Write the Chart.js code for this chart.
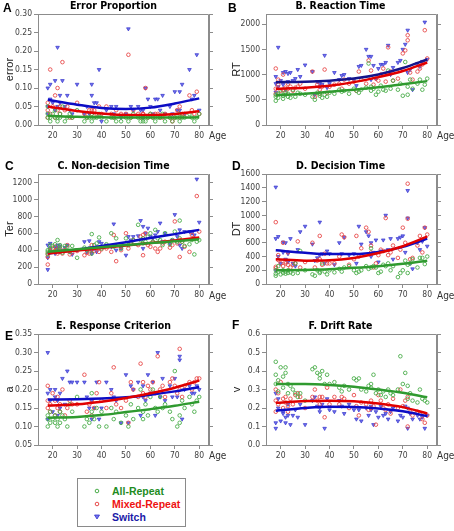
<!DOCTYPE html>
<html><head><meta charset="utf-8">
<script src="https://cdn.jsdelivr.net/npm/chart.js@4.4.1/dist/chart.umd.min.js"></script>
<style>
body{margin:0;background:#fff;width:454px;height:531px;position:relative;overflow:hidden;font-family:"Liberation Sans",Arial,sans-serif}
canvas{position:absolute}
.lt{position:absolute;font-weight:bold;font-size:12px;color:#000;line-height:12px}
.age{position:absolute;font-family:"Liberation Sans Narrow","Arial Narrow","DejaVu Sans Condensed",sans-serif;font-size:10px;color:#333;line-height:12px}
#legend{position:absolute;left:77px;top:478px;width:109px;height:49px;border:1px solid #8a8a8a;box-sizing:border-box}
.li{position:absolute;left:34px;font-weight:bold;font-size:10.5px;line-height:12px}
.mk{position:absolute;left:16px}
</style></head><body>
<script>
// ---------- DATA ----------
const ages = [18,18,18,19,19,20,21,21,22,22,23,23,24,25,26,27,28,30,33,34,35,36,36,37,38,39,40,42,44,45,46,48,50,51,52,53,55,56,57,57,58,59,60,61,62,63,64,65,66,68,69,70,71,72,72,73,74,76,77,78,79,80];
const xTicks = [20,30,40,50,60,70,80];
const fitAges = [18,30,40,50,60,70,80];
const seriesNames = ["All-Repeat","Mixed-Repeat","Switch"];

// A. Error proportion
const errAll = [0.02,0.03,0.05,0.02,0.01,0.03,0.02,0.04,0.02,0.01,0.03,0.02,0.05,0.01,0.02,0.03,0.02,0.04,0.01,0.02,0.02,0.01,0.03,0.02,0.02,0.03,0.02,0.01,0.02,0.02,0.01,0.01,0.02,0.01,0.02,0.03,0.02,0.01,0.01,0.02,0.01,0.02,0.03,0.02,0.01,0.02,0.02,0.03,0.01,0.02,0.01,0.02,0.02,0.03,0.01,0.02,0.02,0.03,0.02,0.01,0.02,0.03];
const errMixed = [0.06,0.04,0.02,0.15,0.03,0.05,0.08,0.02,0.10,0.04,0.05,0.03,0.17,0.04,0.05,0.02,0.02,0.06,0.03,0.02,0.04,0.03,0.04,0.04,0.03,0.05,0.03,0.05,0.03,0.02,0.04,0.03,0.03,0.19,0.02,0.04,0.03,0.02,0.03,0.03,0.10,0.02,0.03,0.02,0.03,0.03,0.02,0.02,0.03,0.02,0.01,0.02,0.04,0.05,0.02,0.03,0.03,0.08,0.04,0.03,0.09,0.03];
const errSwitch = [0.10,0.05,0.03,0.11,0.07,0.06,0.12,0.04,0.21,0.05,0.08,0.06,0.12,0.05,0.08,0.04,0.03,0.11,0.03,0.05,0.03,0.11,0.08,0.06,0.06,0.15,0.01,0.04,0.05,0.03,0.05,0.02,0.03,0.26,0.05,0.04,0.05,0.04,0.04,0.02,0.10,0.07,0.05,0.03,0.07,0.07,0.04,0.08,0.03,0.05,0.03,0.09,0.04,0.09,0.04,0.11,0.03,0.15,0.07,0.08,0.19,0.04];
const errFitAll = [0.025,0.022,0.021,0.020,0.020,0.020,0.021];
const errFitMixed = [0.050,0.038,0.031,0.027,0.027,0.030,0.037];
const errFitSwitch = [0.068,0.055,0.046,0.043,0.047,0.058,0.072];
const errTicks = [0,0.05,0.10,0.15,0.20,0.25,0.30];

// B. Reaction time
const rtAll = [560,600,480,620,540,640,520,580,600,650,560,620,540,700,560,640,620,600,560,500,640,580,620,540,600,560,640,620,700,660,680,620,720,680,640,700,740,1220,760,680,720,600,660,780,700,680,1080,720,880,700,820,580,1250,760,600,900,720,820,900,700,800,920];
const rtMixed = [720,620,1120,800,900,680,1000,700,740,640,820,720,760,680,740,760,820,720,1060,560,800,620,700,760,1100,640,760,800,820,720,900,820,860,680,1060,900,820,1280,1080,940,800,920,880,1000,1120,860,1540,1060,880,920,1080,1420,1480,1780,1680,1040,900,1060,1120,1200,1880,1320];
const rtSwitch = [960,820,650,1540,760,880,1040,800,1060,700,1020,860,1040,880,920,1100,960,1190,1060,600,860,820,760,800,1380,740,820,1040,900,980,1000,920,900,780,1160,1180,1500,1360,1360,900,1180,920,1120,1200,1200,1240,1580,1000,1140,1240,1280,1500,1600,1880,1040,1100,700,1220,1160,1260,2040,1300];
const rtFitAll = [590,620,660,700,750,810,870];
const rtFitMixed = [720,740,780,850,950,1070,1240];
const rtFitSwitch = [850,860,880,920,1000,1130,1300];
const rtTicks = [0,500,1000,1500,2000];

// C. Non-decision time
const terAll = [380,400,350,420,460,450,470,380,520,400,440,460,370,450,440,380,450,310,430,400,420,360,590,460,480,550,420,470,600,440,540,420,540,460,480,520,700,520,480,540,500,560,600,500,640,540,520,460,600,470,520,620,500,540,750,500,450,470,520,350,500,520];
const terMixed = [360,320,230,380,400,420,390,440,360,400,380,420,360,400,460,350,370,390,340,370,360,400,460,390,420,380,410,420,380,580,270,400,600,420,480,520,460,560,340,580,600,460,440,500,420,380,420,480,500,430,460,740,480,320,520,500,440,380,580,540,1040,620];
const terSwitch = [310,460,170,480,420,380,360,440,420,460,380,450,400,430,460,380,350,400,500,380,510,360,400,420,380,500,480,460,440,710,400,420,340,560,520,560,570,750,680,420,600,660,560,540,580,620,720,500,600,470,520,820,560,460,640,420,620,620,600,580,1240,730];
const terFitAll = [380,410,435,460,485,505,530];
const terFitMixed = [360,395,425,455,485,515,550];
const terFitSwitch = [360,405,450,495,545,590,640];
const terTicks = [0,200,400,600,800,1000,1200];

// D. Decision time
const dtAll = [150,200,120,180,260,140,160,200,150,180,160,200,170,150,300,160,480,200,140,120,200,180,160,300,180,140,200,170,220,180,240,260,200,160,180,200,260,220,520,240,260,240,160,180,280,260,300,200,260,100,160,200,340,280,160,300,360,240,380,380,290,400];
const dtMixed = [250,230,900,420,350,300,600,260,320,300,280,460,240,280,300,620,240,320,600,240,340,700,360,280,440,300,300,300,400,720,680,280,360,700,400,520,820,760,560,460,240,300,420,500,480,960,420,460,560,380,500,820,600,1460,950,360,380,560,700,460,820,720];
const dtSwitch = [200,660,1410,690,400,300,610,460,360,600,440,320,660,300,260,500,760,840,580,340,380,900,420,440,300,480,440,280,600,440,680,420,440,300,840,580,760,700,600,400,460,640,320,480,640,1000,500,660,360,660,680,700,460,1360,960,300,220,600,500,620,820,550];
const dtFitAll = [200,205,215,235,260,295,340];
const dtFitMixed = [360,340,345,380,450,550,690];
const dtFitSwitch = [490,455,435,435,465,540,660];
const dtTicks = [0,200,400,600,800,1000,1200,1400,1600];

// E. Response criterion
const aAll = [0.10,0.12,0.13,0.11,0.14,0.12,0.11,0.13,0.10,0.12,0.14,0.11,0.13,0.12,0.10,0.16,0.14,0.18,0.10,0.12,0.11,0.19,0.14,0.12,0.15,0.10,0.14,0.10,0.15,0.12,0.14,0.11,0.13,0.10,0.16,0.12,0.15,0.20,0.14,0.12,0.16,0.13,0.18,0.20,0.15,0.14,0.18,0.15,0.16,0.14,0.12,0.25,0.10,0.13,0.11,0.17,0.15,0.18,0.16,0.14,0.17,0.18];
const aMixed = [0.17,0.15,0.21,0.14,0.16,0.19,0.17,0.13,0.18,0.15,0.14,0.16,0.20,0.13,0.15,0.17,0.16,0.16,0.24,0.14,0.16,0.17,0.13,0.15,0.19,0.22,0.17,0.15,0.19,0.26,0.16,0.15,0.17,0.11,0.22,0.20,0.18,0.27,0.22,0.19,0.18,0.21,0.20,0.22,0.19,0.29,0.20,0.21,0.18,0.22,0.23,0.21,0.19,0.31,0.20,0.18,0.21,0.22,0.20,0.22,0.23,0.23];
const aSwitch = [0.30,0.19,0.12,0.20,0.17,0.14,0.18,0.20,0.13,0.17,0.19,0.15,0.23,0.16,0.25,0.22,0.22,0.22,0.22,0.18,0.15,0.12,0.17,0.15,0.22,0.12,0.15,0.22,0.20,0.18,0.17,0.11,0.24,0.11,0.21,0.20,0.22,0.13,0.21,0.18,0.17,0.24,0.19,0.22,0.13,0.30,0.18,0.23,0.17,0.21,0.18,0.23,0.18,0.29,0.28,0.12,0.20,0.21,0.19,0.19,0.21,0.20];
const aFitAll = [0.124,0.126,0.131,0.139,0.147,0.156,0.167];
const aFitMixed = [0.157,0.160,0.167,0.177,0.190,0.205,0.224];
const aFitSwitch = [0.173,0.174,0.176,0.179,0.186,0.195,0.207];
const aTicks = [0.05,0.10,0.15,0.20,0.25,0.30,0.35];

// F. Drift rate
const vAll = [0.45,0.38,0.33,0.35,0.29,0.42,0.37,0.31,0.42,0.39,0.33,0.28,0.32,0.30,0.28,0.26,0.28,0.24,0.41,0.42,0.39,0.36,0.38,0.40,0.33,0.38,0.33,0.34,0.31,0.29,0.32,0.30,0.36,0.35,0.36,0.30,0.29,0.32,0.31,0.33,0.38,0.28,0.30,0.27,0.29,0.26,0.30,0.28,0.27,0.30,0.48,0.33,0.39,0.25,0.32,0.28,0.24,0.23,0.30,0.25,0.24,0.23];
const vMixed = [0.30,0.24,0.18,0.28,0.22,0.34,0.25,0.20,0.26,0.23,0.21,0.18,0.25,0.22,0.27,0.28,0.26,0.20,0.26,0.30,0.24,0.26,0.22,0.26,0.15,0.31,0.22,0.26,0.22,0.26,0.25,0.20,0.27,0.21,0.16,0.23,0.22,0.19,0.24,0.20,0.21,0.11,0.27,0.24,0.20,0.19,0.22,0.17,0.25,0.20,0.30,0.21,0.24,0.10,0.26,0.18,0.16,0.18,0.17,0.14,0.12,0.16];
const vSwitch = [0.12,0.28,0.09,0.25,0.20,0.13,0.18,0.17,0.12,0.15,0.22,0.16,0.11,0.16,0.19,0.15,0.22,0.11,0.24,0.26,0.21,0.18,0.20,0.22,0.09,0.25,0.19,0.18,0.24,0.21,0.17,0.22,0.19,0.14,0.19,0.13,0.20,0.16,0.21,0.19,0.11,0.18,0.15,0.21,0.16,0.17,0.14,0.18,0.20,0.13,0.16,0.15,0.21,0.09,0.20,0.17,0.14,0.16,0.14,0.15,0.09,0.16];
const vFitAll = [0.330,0.330,0.325,0.315,0.300,0.283,0.258];
const vFitMixed = [0.228,0.238,0.240,0.237,0.225,0.205,0.170];
const vFitSwitch = [0.185,0.200,0.207,0.206,0.198,0.182,0.157];
const vTicks = [0,0.1,0.2,0.3,0.4,0.5,0.6];

// ---------- RENDER ----------
const NARROW = '"Liberation Sans Narrow","Arial Narrow","DejaVu Sans Condensed",sans-serif';
const COL = {
  green:{pt:'#4aad4a', line:'#2f9a2f'},
  red:{pt:'#e84a4a', line:'#e00000'},
  blue:{pt:'#3434cc', fill:'#7474ee', line:'#0c0cc4'}
};
const pairs = (xs, ys) => xs.map((x,i)=>({x:x, y:ys[i]}));

const framePlugin = {
  id:'frame',
  beforeDatasetsDraw(chart){
    const a = chart.chartArea, ctx = chart.ctx;
    ctx.save();
    ctx.strokeStyle = '#8c8c8c'; ctx.lineWidth = 1;
    ctx.beginPath();
    ctx.moveTo(Math.round(a.left)+0.5, Math.round(a.top)+0.5);
    ctx.lineTo(Math.round(a.right)-0.5, Math.round(a.top)+0.5);
    ctx.lineTo(Math.round(a.right)-0.5, Math.round(a.bottom));
    ctx.stroke();
    ctx.restore();
  }
};

function panel(cfg){
  const c = document.createElement('canvas');
  c.width = cfg.w; c.height = cfg.h;
  c.style.left = cfg.left+'px'; c.style.top = cfg.top+'px';
  c.style.width = cfg.w+'px'; c.style.height = cfg.h+'px';
  document.body.appendChild(c);
  const setTicks = list => (s => { s.ticks = list.map(v=>({value:v})); });
  const lineDs = (ys, color, label) => ({
    type:'line', label:label+' fit', data:pairs(fitAges, ys), borderColor:color, borderWidth:2.5,
    pointRadius:0, fill:false, tension:0.4, cubicInterpolationMode:'monotone', order:0, showLine:true
  });
  const ptDs = (ys, c2, label) => ({
    type:'scatter', label:label, data:pairs(ages, ys), pointStyle:'circle', pointRadius:1.8,
    borderColor:c2, backgroundColor:'rgba(255,255,255,0)', borderWidth:0.9, order:1
  });
  const triDs = (ys, label) => ({
    type:'scatter', label:label, data:pairs(ages, ys), pointStyle:'triangle', rotation:180, pointRadius:2.1,
    borderColor:COL.blue.pt, backgroundColor:COL.blue.fill, borderWidth:0.7, order:1
  });
  new Chart(c, {
    type:'scatter',
    data:{datasets:[
      ptDs(cfg.s[0], COL.green.pt, seriesNames[0]),
      ptDs(cfg.s[1], COL.red.pt, seriesNames[1]),
      triDs(cfg.s[2], seriesNames[2]),
      lineDs(cfg.f[0], COL.green.line, seriesNames[0]),
      lineDs(cfg.f[1], COL.red.line, seriesNames[1]),
      lineDs(cfg.f[2], cfg.blueLine || COL.blue.line, seriesNames[2])
    ]},
    options:{
      responsive:false, animation:false, devicePixelRatio:1,
      layout:{padding:0},
      plugins:{
        legend:{display:false}, tooltip:{enabled:false},
        title:{display:true, text:cfg.title, color:'#000', font:{family:NARROW, size:10.5, weight:'bold', lineHeight:1.15}, padding:{top:0,bottom:2}}
      },
      scales:{
        x:{type:'linear', min:14, max:84, afterBuildTicks:setTicks(xTicks), afterFit:s=>{s.height=cfg.xh;},
           grid:{drawOnChartArea:false, tickLength:4, color:'#8c8c8c'}, border:{color:'#8c8c8c'},
           ticks:{font:{family:NARROW,size:8.5}, color:'#404040', padding:2, autoSkip:false, maxRotation:0}},
        y:{type:'linear', min:cfg.min, max:cfg.max, afterBuildTicks:setTicks(cfg.ticks), afterFit:s=>{s.width=cfg.yw;},
           grid:{drawOnChartArea:false, tickLength:4, color:'#8c8c8c'}, border:{color:'#8c8c8c'},
           ticks:{font:{family:NARROW,size:8.5}, color:'#404040', padding:2, autoSkip:false, callback:v=>v.toFixed(cfg.dec)},
           title:{display:true, text:cfg.ytitle, color:'#222', font:{family:'"Liberation Sans",Arial,sans-serif', size:11}, padding:{top:3,bottom:0}}},
        y2:{type:'linear', position:'right', min:cfg.min, max:cfg.max, afterBuildTicks:setTicks(cfg.ticks), afterFit:s=>{s.width=cfg.rw;},
           grid:{drawOnChartArea:false, tickLength:4, color:'#8c8c8c'}, border:{color:'#8c8c8c'},
           ticks:{display:false}}
      }
    },
    plugins:[framePlugin]
  });
}

const L = {left:0, w:227, yw:38, rw:18};
const R = {left:227, w:227, yw:39, rw:17};
const rows = [{top:0,h:150,xh:25},{top:160,h:149,xh:25},{top:320,h:150,xh:25}];

panel({...L, ...rows[0], title:'Error Proportion', ytitle:'error', min:0, max:0.30, ticks:errTicks, dec:2,
  s:[errAll,errMixed,errSwitch], f:[errFitAll,errFitMixed,errFitSwitch]});
panel({...R, ...rows[0], title:'B. Reaction Time', ytitle:'RT', min:0, max:2200, ticks:rtTicks, dec:0,
  s:[rtAll,rtMixed,rtSwitch], f:[rtFitAll,rtFitMixed,rtFitSwitch], blueLine:'#14148a'});
panel({...L, ...rows[1], title:'C. Non-decision Time', ytitle:'Ter', min:0, max:1300, ticks:terTicks, dec:0,
  s:[terAll,terMixed,terSwitch], f:[terFitAll,terFitMixed,terFitSwitch]});
panel({...R, ...rows[1], title:'D. Decision Time', ytitle:'DT', min:0, max:1600, ticks:dtTicks, dec:0,
  s:[dtAll,dtMixed,dtSwitch], f:[dtFitAll,dtFitMixed,dtFitSwitch]});
panel({...L, ...rows[2], title:'E. Response Criterion', ytitle:'a', min:0.05, max:0.35, ticks:aTicks, dec:2,
  s:[aAll,aMixed,aSwitch], f:[aFitAll,aFitMixed,aFitSwitch]});
panel({...R, ...rows[2], title:'F. Drift Rate', ytitle:'v', min:0, max:0.6, ticks:vTicks, dec:1,
  s:[vAll,vMixed,vSwitch], f:[vFitAll,vFitMixed,vFitSwitch]});
</script>
<div class="lt" style="left:3px;top:2px">A</div>
<div class="lt" style="left:228px;top:2px">B</div>
<div class="lt" style="left:5px;top:160px">C</div>
<div class="lt" style="left:232px;top:160px">D</div>
<div class="lt" style="left:5px;top:330px">E</div>
<div class="lt" style="left:232px;top:319px">F</div>
<div class="age" style="left:209px;top:130px">Age</div>
<div class="age" style="left:437px;top:130px">Age</div>
<div class="age" style="left:209px;top:290px">Age</div>
<div class="age" style="left:437px;top:290px">Age</div>
<div class="age" style="left:209px;top:450px">Age</div>
<div class="age" style="left:437px;top:450px">Age</div>
<div id="legend">
  <svg class="mk" style="top:9px" width="6" height="6"><circle cx="3" cy="3" r="1.8" fill="none" stroke="#4aad4a" stroke-width="1"/></svg>
  <div class="li" style="top:6px;color:#1e8c1e">All-Repeat</div>
  <svg class="mk" style="top:22px" width="6" height="6"><circle cx="3" cy="3" r="1.8" fill="none" stroke="#e84a4a" stroke-width="1"/></svg>
  <div class="li" style="top:19px;color:#ee1111">Mixed-Repeat</div>
  <svg class="mk" style="top:35px" width="6" height="6"><polygon points="0.5,1 5.5,1 3,5" fill="#7474ee" stroke="#3434cc" stroke-width="0.8"/></svg>
  <div class="li" style="top:32px;color:#1a1aa8">Switch</div>
</div>
</body></html>
